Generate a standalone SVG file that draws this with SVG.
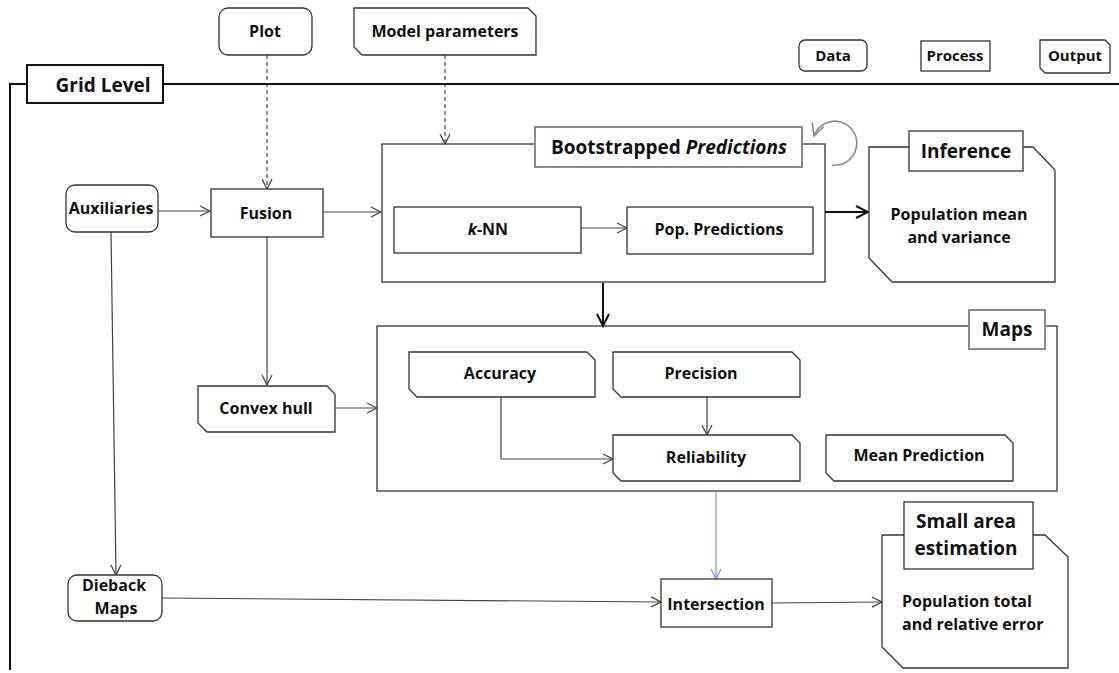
<svg xmlns="http://www.w3.org/2000/svg" width="1119" height="673" viewBox="0 0 1119 673">
  <style>
    text { font-family: "Open Sans", Lato, "Liberation Sans", sans-serif; font-weight: 700; fill: #111; text-anchor: middle; }
    text.start { text-anchor: start; }
    .lbl { font-size: 16px; }
    .leg { font-size: 15px; }
    .ttl { font-size: 19px; }
    .box { fill: #fff; stroke: #333; stroke-width: 1.3; }
    .frame { fill: none; stroke: #333; stroke-width: 1.3; }
    .tbox { fill: #fff; stroke: #8a8a8a; stroke-width: 2; }
    .edge { fill: none; stroke: #444; stroke-width: 1.2; }
    .dash { fill: none; stroke: #333; stroke-width: 1.1; stroke-dasharray: 4 3; }
    .thick { fill: none; stroke: #111; stroke-width: 2; }
    .blue { fill: none; stroke: #6d9ad6; stroke-width: 1.2; }
  </style>
  <defs>
    <marker id="arr" markerUnits="userSpaceOnUse" markerWidth="14" markerHeight="14" refX="12" refY="7" orient="auto">
      <path d="M2,2 L12,7 L2,12" fill="none" stroke="#444" stroke-width="1.3"/>
    </marker>
    <marker id="arrK" markerUnits="userSpaceOnUse" markerWidth="16" markerHeight="16" refX="14" refY="8" orient="auto">
      <path d="M2,2 L14,8 L2,14" fill="none" stroke="#111" stroke-width="2"/>
    </marker>
    <marker id="arrB" markerUnits="userSpaceOnUse" markerWidth="14" markerHeight="14" refX="12" refY="7" orient="auto">
      <path d="M2,2 L12,7 L2,12" fill="none" stroke="#6d9ad6" stroke-width="1.3"/>
    </marker>
    <marker id="arrG" markerUnits="userSpaceOnUse" markerWidth="16" markerHeight="16" refX="14" refY="8" orient="auto">
      <path d="M2,2 L14,8 L2,14" fill="none" stroke="#8a8a8a" stroke-width="1.6"/>
    </marker>
  </defs>

  <rect width="1119" height="673" fill="#fff"/>

  <!-- Grid level frame -->
  <g id="grid-level">
    <path d="M10,670 V84 H27 M163,84 H1119" fill="none" stroke="#111" stroke-width="2"/>
    <rect x="27" y="65" width="136" height="38" fill="#fff" stroke="#111" stroke-width="2"/>
    <text class="ttl" x="103" y="92">Grid Level</text>
  </g>

  <!-- Container frames (drawn under the connectors) -->
  <g id="bootstrapped-predictions">
    <rect class="frame" x="382" y="144" width="443" height="138"/>
    <rect class="tbox" x="535" y="127" width="267" height="40"/>
    <text class="ttl" x="669" y="154">Bootstrapped <tspan font-style="italic">Predictions</tspan></text>
  </g>
  <g id="maps">
    <rect class="frame" x="377" y="326" width="680" height="165"/>
    <rect class="tbox" x="969" y="310" width="76" height="39"/>
    <text class="ttl" x="1007" y="336">Maps</text>
  </g>

  <!-- Legend -->
  <g id="legend-data">
    <rect class="box" x="799" y="40" width="68" height="31" rx="6"/>
    <text class="leg" x="833" y="61">Data</text>
  </g>
  <g id="legend-process">
    <rect class="box" x="921" y="41" width="69" height="30"/>
    <text class="leg" x="955" y="61">Process</text>
  </g>
  <g id="legend-output">
    <path class="box" d="M1040,40 H1105 L1110,45 V73 H1045 L1040,68 Z"/>
    <text class="leg" x="1075" y="61">Output</text>
  </g>

  <!-- Connectors -->
  <g id="connectors">
    <path class="dash" d="M267,55 V189" marker-end="url(#arr)"/>
    <path class="dash" d="M445,55 V144" marker-end="url(#arr)"/>
    <path class="edge" d="M158,211 H210" marker-end="url(#arr)"/>
    <path class="edge" d="M323,212 H381" marker-end="url(#arr)"/>
    <path class="edge" d="M581,228 H627" marker-end="url(#arr)"/>
    <path class="thick" d="M825,212 H868" marker-end="url(#arrK)"/>
    <path class="thick" d="M603,283 V326" marker-end="url(#arrK)"/>
    <path class="edge" d="M267,237 V385" marker-end="url(#arr)"/>
    <path class="edge" d="M335,408 H377" marker-end="url(#arr)"/>
    <path class="edge" d="M707,397 V435" marker-end="url(#arr)"/>
    <path class="edge" d="M501,397 V459 H613" marker-end="url(#arr)"/>
    <path class="edge" d="M111,232 L116,575" marker-end="url(#arr)"/>
    <path class="blue" d="M716,491 V579" marker-end="url(#arrB)"/>
    <path class="edge" d="M162,598 L661,602" marker-end="url(#arr)"/>
    <path class="edge" d="M772,603 L882,602" marker-end="url(#arr)"/>
    <!-- bootstrap loop -->
    <path d="M832,165 A22,22 0 1 0 814,136" fill="none" stroke="#8a8a8a" stroke-width="1.6" marker-end="url(#arrG)"/>
  </g>

  <!-- Inputs -->
  <g id="plot">
    <rect class="box" x="219" y="8" width="93" height="47" rx="9"/>
    <text class="lbl" x="265" y="37">Plot</text>
  </g>
  <g id="model-parameters">
    <path class="box" d="M354,8 H528 L536,16 V55 H362 L354,47 Z"/>
    <text class="lbl" x="445" y="37">Model parameters</text>
  </g>
  <g id="auxiliaries">
    <rect class="box" x="66" y="185" width="92" height="47" rx="9"/>
    <text class="lbl" x="111" y="214">Auxiliaries</text>
  </g>
  <g id="fusion">
    <rect class="box" x="211" y="189" width="112" height="48"/>
    <text class="lbl" x="266" y="219">Fusion</text>
  </g>
  <g id="convex-hull">
    <path class="box" d="M198,386 H327 L335,394 V432 H207 L198,423 Z"/>
    <text class="lbl" x="266" y="414">Convex hull</text>
  </g>
  <g id="dieback-maps">
    <rect class="box" x="68" y="575" width="94" height="46" rx="9"/>
    <text class="lbl" x="114" y="591">Dieback</text>
    <text class="lbl" x="116" y="614">Maps</text>
  </g>

  <!-- Bootstrapped predictions content -->
  <g id="knn">
    <rect class="box" x="394" y="207" width="187" height="46"/>
    <text class="lbl" x="488" y="235"><tspan font-style="italic">k</tspan>-NN</text>
  </g>
  <g id="pop-predictions">
    <rect class="box" x="627" y="207" width="186" height="47"/>
    <text class="lbl" x="719" y="235">Pop. Predictions</text>
  </g>

  <!-- Inference -->
  <g id="inference">
    <path class="box" d="M869,147 H1033 L1055,170 V282 H892 L869,258 Z"/>
    <rect class="box" x="909" y="131" width="114" height="40"/>
    <text class="ttl" x="966" y="158">Inference</text>
    <text class="lbl" x="959" y="220">Population mean</text>
    <text class="lbl" x="959" y="243">and variance</text>
  </g>

  <!-- Maps content -->
  <g id="accuracy">
    <path class="box" d="M409,352 H587 L595,360 V397 H417 L409,389 Z"/>
    <text class="lbl" x="500" y="379">Accuracy</text>
  </g>
  <g id="precision">
    <path class="box" d="M613,352 H792 L800,360 V397 H621 L613,389 Z"/>
    <text class="lbl" x="701" y="379">Precision</text>
  </g>
  <g id="reliability">
    <path class="box" d="M613,435 H792 L800,443 V481 H621 L613,473 Z"/>
    <text class="lbl" x="706" y="463">Reliability</text>
  </g>
  <g id="mean-prediction">
    <path class="box" d="M826,435 H1005 L1013,443 V481 H834 L826,473 Z"/>
    <text class="lbl" x="919" y="461">Mean Prediction</text>
  </g>

  <!-- Outputs at the bottom -->
  <g id="intersection">
    <rect class="box" x="661" y="579" width="111" height="48"/>
    <text class="lbl" x="716" y="610">Intersection</text>
  </g>
  <g id="small-area-estimation">
    <path class="box" d="M882,535 H1045 L1068,557 V668 H903 L882,647 Z"/>
    <rect class="box" x="904" y="502" width="129" height="67"/>
    <text class="ttl" x="966" y="528">Small area</text>
    <text class="ttl" x="966" y="555">estimation</text>
    <text class="lbl start" x="902" y="607">Population total</text>
    <text class="lbl start" x="902" y="630">and relative error</text>
  </g>
</svg>
